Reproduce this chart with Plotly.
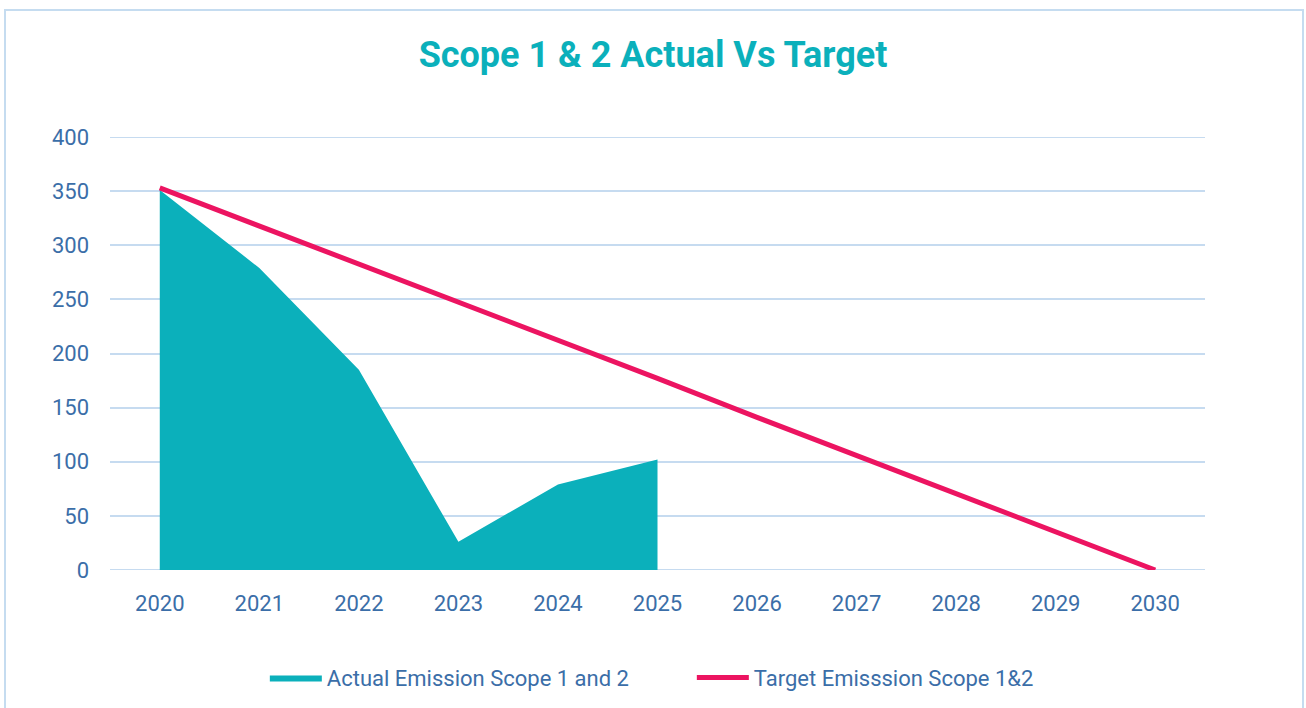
import plotly.graph_objects as go

years = ["2020", "2021", "2022", "2023", "2024", "2025", "2026", "2027", "2028", "2029", "2030"]
actual_years = ["2020", "2021", "2022", "2023", "2024", "2025"]
actual = [351, 279, 185, 26, 79, 102]
target = [353, 318, 282, 247, 212, 177, 141, 106, 71, 35, 0]
y_ticks = [0, 50, 100, 150, 200, 250, 300, 350, 400]

TEAL = "#0bb0bb"
PINK = "#ec1461"
BLUE = "#3b6ea8"
GRID = "#c6dbf0"
FONT = "Roboto"

fig = go.Figure()
fig.add_trace(go.Scatter(
    x=actual_years, y=actual, name="Actual Emission Scope 1 and 2",
    mode="lines", fill="tozeroy", fillcolor=TEAL,
    line=dict(width=0, color=TEAL),
))
fig.add_trace(go.Scatter(
    x=years, y=target, name="Target Emisssion Scope 1&2",
    mode="lines", line=dict(width=5, color=PINK),
))

fig.update_layout(
    width=1306, height=708,
    margin=dict(l=110, r=101, t=137, b=138, autoexpand=False),
    paper_bgcolor="white", plot_bgcolor="white",
    font=dict(family=FONT, color=BLUE, size=22),
    title=dict(text="<b>Scope 1 & 2 Actual Vs Target</b>", x=0.5, xanchor="center",
               y=0.923, yanchor="middle",
               font=dict(family=FONT, size=36, color=TEAL)),
    xaxis=dict(type="category", categoryorder="array", categoryarray=years,
               range=[-0.5, 10.5], showgrid=False, zeroline=False, automargin=False,
               showline=False, ticks="", ticklabelstandoff=18,
               tickfont=dict(size=22, color=BLUE)),
    yaxis=dict(range=[0, 400], tickvals=y_ticks, showgrid=True, gridcolor=GRID,
               gridwidth=2, zeroline=False, showline=False, ticks="", automargin=False,
               ticklabelstandoff=20, tickfont=dict(size=22, color=BLUE)),
    legend=dict(orientation="h", x=0.1414, xanchor="left", y=-0.2, yanchor="top",
                font=dict(size=22, color=BLUE), itemwidth=52,
                entrywidth=360, entrywidthmode="pixels",
                traceorder="normal"),
    showlegend=True,
    shapes=[dict(type="rect", xref="paper", yref="paper",
                 x0=-0.0959, x1=1.0895, y0=-0.33, y1=1.2933,
                 line=dict(color="#c5dcf0", width=2), layer="below")],
)
for gy in (y_ticks[0], y_ticks[-1]):
    fig.add_shape(type="line", xref="paper", yref="y", x0=0, x1=1, y0=gy, y1=gy,
                  line=dict(color=GRID, width=2), layer="below")

fig.write_html("out.html", post_script="document.body.style.margin='0';",
               config={"displayModeBar": False})
